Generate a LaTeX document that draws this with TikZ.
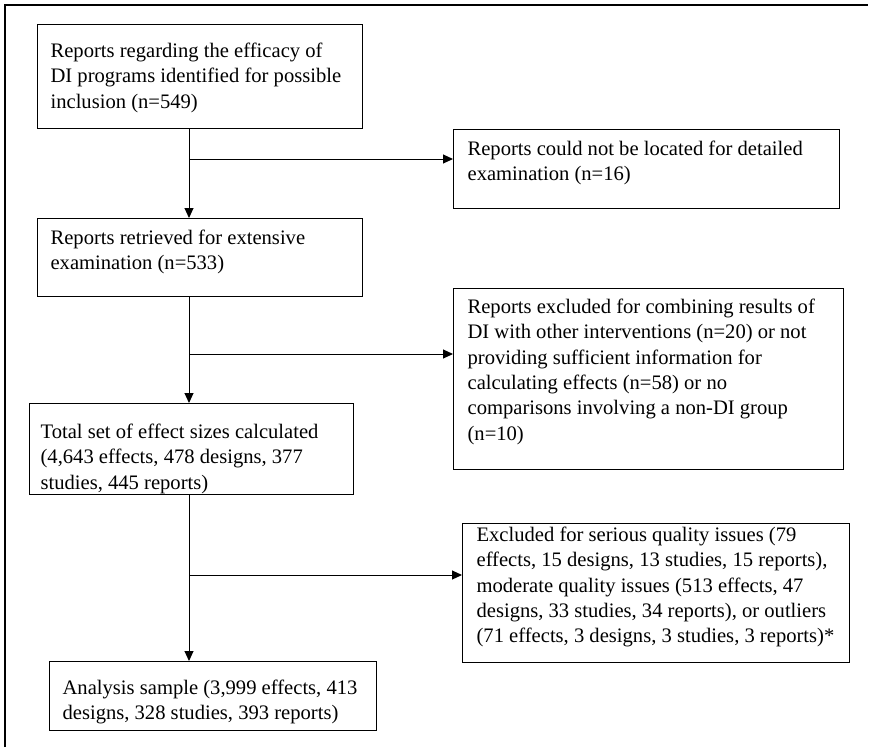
\documentclass[tikz,border=0pt]{standalone}
\usepackage{fontspec}
\setmainfont{Liberation Serif}
\usetikzlibrary{arrows.meta}
\newcommand{\tb}[5]{\parbox[c][#2pt][t]{#1pt}{\raggedright\leftskip=#3pt\relax\rule{0pt}{#4pt}#5}}
\tikzset{
  bx/.style={draw, anchor=north west, inner sep=0pt, line width=1.2pt,
    font=\fontsize{20.6}{25.3}\selectfont},
  conn/.style={draw, line width=1pt, -{Triangle[length=10pt,width=9pt]}},
  plainline/.style={draw, line width=1pt},
  framel/.style={draw, line width=1.4pt}
}
\begin{document}
\begin{tikzpicture}[x=1pt,y=-1pt]
\useasboundingbox (0,0) rectangle (870,747);
% outer frame (top and left)
\coordinate (fl) at (5,747);
\coordinate (ftl) at (5,5);
\coordinate (ftr) at (868,5);
\draw[framel] (fl) -- (ftl) -- (ftr);

\node[bx] (b1) at (37,24) {\tb{325}{104}{13}{33}{\mbox{Reports regarding the efficacy of}\\\mbox{DI programs identified for possible}\\\mbox{inclusion (n=549)}}};
\node[bx] (b2) at (453,129) {\tb{386}{79}{14}{26}{\mbox{Reports could not be located for detailed}\\\mbox{examination (n=16)}}};
\node[bx] (b3) at (37,218) {\tb{325}{78}{13}{26}{\mbox{Reports retrieved for extensive}\\\mbox{examination (n=533)}}};
\node[bx] (b4) at (453,288) {\tb{390}{181}{14}{25}{\mbox{Reports excluded for combining results of}\\\mbox{DI with other interventions (n=20) or not}\\\mbox{providing sufficient information for}\\\mbox{calculating effects (n=58) or no}\\\mbox{comparisons involving a non-DI group}\\\mbox{(n=10)}}};
\node[bx] (b5) at (29,403) {\tb{324}{91}{11}{35}{\mbox{Total set of effect sizes calculated}\\\mbox{(4,643 effects, 478 designs, 377}\\\mbox{studies, 445 reports)}}};
\node[bx] (b6) at (462,523) {\tb{387}{139}{14}{18}{\mbox{Excluded for serious quality issues (79}\\\mbox{effects, 15 designs, 13 studies, 15 reports),}\\\mbox{moderate quality issues (513 effects, 47}\\\mbox{designs, 33 studies, 34 reports), or outliers}\\\mbox{(71 effects, 3 designs, 3 studies, 3 reports)*}}};
\node[bx] (b7) at (49,661) {\tb{327}{69}{13}{33}{\mbox{Analysis sample (3,999 effects, 413}\\\mbox{designs, 328 studies, 393 reports)}}};

\coordinate (vx) at (189,0);
\coordinate (j1) at (189,159);
\coordinate (j2) at (189,354);
\coordinate (j3) at (189,575);

\draw[conn] (b1.south -| vx) -- (b3.north -| vx);
\draw[conn] (j1) -- (j1 -| b2.west);
\draw[conn] (b3.south -| vx) -- (b5.north -| vx);
\draw[conn] (j2) -- (j2 -| b4.west);
\draw[conn] (b5.south -| vx) -- (b7.north -| vx);
\draw[conn] (j3) -- (j3 -| b6.west);
\end{tikzpicture}
\end{document}
